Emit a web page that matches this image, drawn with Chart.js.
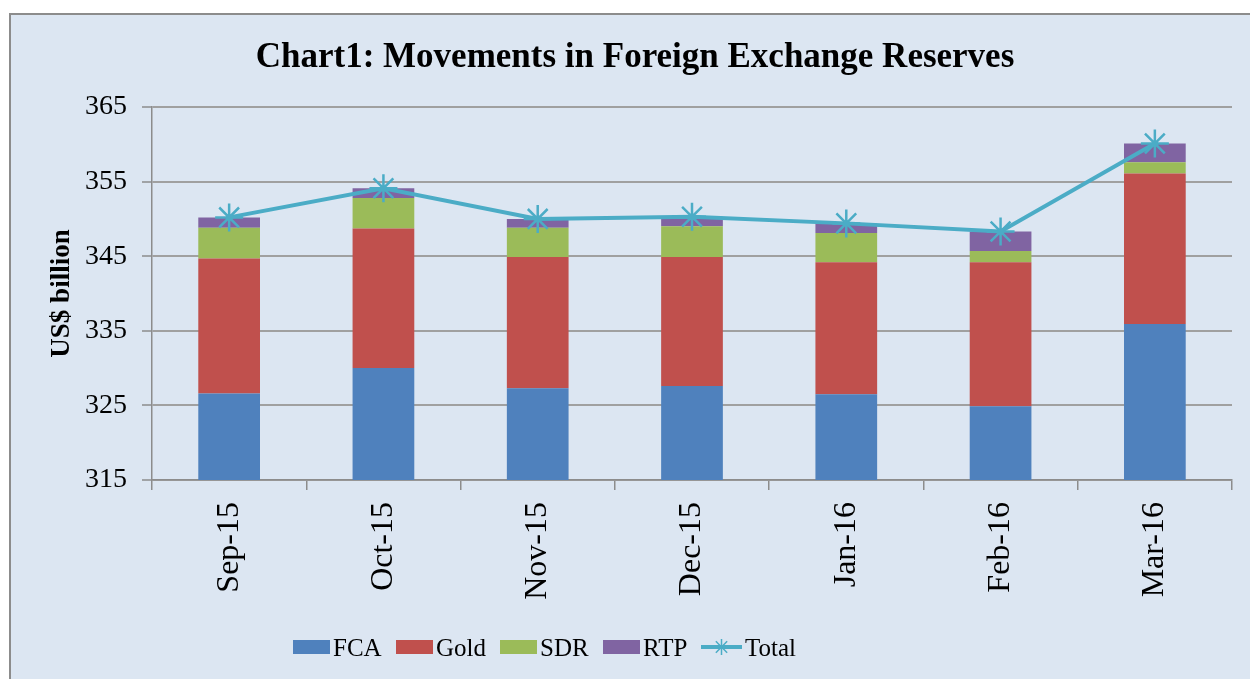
<!DOCTYPE html>
<html>
<head>
<meta charset="utf-8">
<title>Chart1: Movements in Foreign Exchange Reserves</title>
<script src="https://cdn.jsdelivr.net/npm/chart.js@4.4.1/dist/chart.umd.min.js"></script>
<style>
    html, body { margin: 0; padding: 0; background: #ffffff; overflow: hidden; }
    #frame {
        position: absolute; left: 9px; top: 13px; width: 1260px; height: 690px;
        background: #dce6f2; border: 2px solid #8c8c8c; box-sizing: border-box;
    }
    #reserveChart { position: absolute; left: 0; top: 0; }
</style>
</head>
<body>
<div id="frame"></div>
<canvas id="reserveChart" width="1250" height="679"></canvas>
<script>
// Data (US$ billion)
const months = ['Sep-15', 'Oct-15', 'Nov-15', 'Dec-15', 'Jan-16', 'Feb-16', 'Mar-16'];
const fca   = [326.6, 330.0, 327.3, 327.6, 326.5, 324.9, 335.9];
const gold  = [18.1, 18.7, 17.6, 17.3, 17.7, 19.3, 20.2];
const sdr   = [4.1, 4.1, 3.9, 4.1, 3.9, 1.5, 1.5];
const rtp   = [1.4, 1.3, 1.2, 1.3, 1.3, 2.6, 2.5];
const total = [350.2, 354.1, 350.0, 350.3, 349.4, 348.3, 360.1];
const yMin = 315, yMax = 365, yStep = 10;

// Colours
const FCA_COLOR = '#4f81bd';
const GOLD_COLOR = '#c0504d';
const SDR_COLOR = '#9bbb59';
const RTP_COLOR = '#8064a2';
const TOTAL_COLOR = '#4bacc6';

const FONT = "'Liberation Serif', 'Times New Roman', serif";
Chart.defaults.font.family = FONT;
Chart.defaults.color = '#000';

// Legend is drawn by hand so it can sit where the original one is
const LEGEND_X = [293, 396, 500, 603, 701];
const LEGEND_Y = 647;

function drawStar(ctx, x, y, r) {
    for (let a = 0; a < 4; a++) {
        const ang = a * Math.PI / 4;
        ctx.beginPath();
        ctx.moveTo(x - r * Math.cos(ang), y - r * Math.sin(ang));
        ctx.lineTo(x + r * Math.cos(ang), y + r * Math.sin(ang));
        ctx.stroke();
    }
}

const bottomLegend = {
    id: 'bottomLegend',
    afterDraw(chart) {
        const ctx = chart.ctx;
        ctx.save();
        ctx.font = '25px ' + FONT;
        ctx.textBaseline = 'alphabetic';
        chart.data.datasets.forEach((ds, i) => {
            const x = LEGEND_X[i];
            let textX;
            if (ds.type === 'line') {
                ctx.strokeStyle = ds.borderColor;
                ctx.lineWidth = 4;
                ctx.beginPath();
                ctx.moveTo(x, LEGEND_Y);
                ctx.lineTo(x + 41, LEGEND_Y);
                ctx.stroke();
                ctx.lineWidth = 1.5;
                drawStar(ctx, x + 20.5, LEGEND_Y, 8);
                textX = x + 44;
            } else {
                ctx.fillStyle = ds.backgroundColor;
                ctx.fillRect(x, LEGEND_Y - 7, 37, 14);
                textX = x + 40;
            }
            ctx.fillStyle = '#000';
            ctx.fillText(ds.label, textX, LEGEND_Y + 9);
        });
        ctx.restore();
    }
};

function barSet(label, data, color) {
    return {
        type: 'bar',
        label: label,
        data: data,
        backgroundColor: color,
        borderWidth: 0,
        barPercentage: 0.4,
        categoryPercentage: 1.0,
        stack: 'reserves'
    };
}

const ctx = document.getElementById('reserveChart');
new Chart(ctx, {
    data: {
        labels: months,
        datasets: [
            barSet('FCA', fca, FCA_COLOR),
            barSet('Gold', gold, GOLD_COLOR),
            barSet('SDR', sdr, SDR_COLOR),
            barSet('RTP', rtp, RTP_COLOR),
            {
                type: 'line',
                label: 'Total',
                data: total,
                borderColor: TOTAL_COLOR,
                backgroundColor: TOTAL_COLOR,
                borderWidth: 4,
                tension: 0,
                fill: false,
                pointStyle: 'star',
                pointRadius: 14,
                pointBorderColor: TOTAL_COLOR,
                pointBorderWidth: 2.5,
                stack: 'total',
                order: -1
            }
        ]
    },
    options: {
        responsive: false,
        animation: false,
        layout: { padding: { left: 38, right: 18, top: 0, bottom: 0 } },
        plugins: {
            legend: { display: false },
            tooltip: { enabled: false },
            title: {
                display: true,
                text: 'Chart1: Movements in Foreign Exchange Reserves',
                color: '#000',
                font: { size: 35, weight: 'bold' },
                padding: { top: 37, bottom: 28 }
            }
        },
        scales: {
            x: {
                stacked: true,
                offset: true,
                ticks: {
                    color: '#000',
                    font: { size: 32 },
                    minRotation: 90,
                    maxRotation: 90,
                    autoSkip: false,
                    padding: 12
                },
                grid: {
                    display: true,
                    offset: true,
                    drawOnChartArea: false,
                    tickLength: 10,
                    color: '#8c8c8c',
                    lineWidth: 1.5
                },
                border: { color: '#8c8c8c', width: 1.5 },
                afterFit: function (scale) { scale.height = 199; }
            },
            y: {
                stacked: true,
                min: yMin,
                max: yMax,
                ticks: {
                    stepSize: yStep,
                    color: '#000',
                    font: { size: 28 },
                    padding: 15
                },
                grid: {
                    color: '#a0a0a0',
                    lineWidth: 2,
                    tickLength: 10,
                    tickColor: '#8c8c8c',
                    tickWidth: 1.5
                },
                border: { color: '#8c8c8c', width: 1.5 },
                title: {
                    display: true,
                    text: 'US$ billion',
                    color: '#000',
                    font: { size: 27, weight: 'bold' },
                    padding: { top: 8, bottom: 0 }
                },
                afterFit: function (scale) { scale.width = 114; }
            }
        }
    },
    plugins: [bottomLegend]
});
</script>
</body>
</html>
